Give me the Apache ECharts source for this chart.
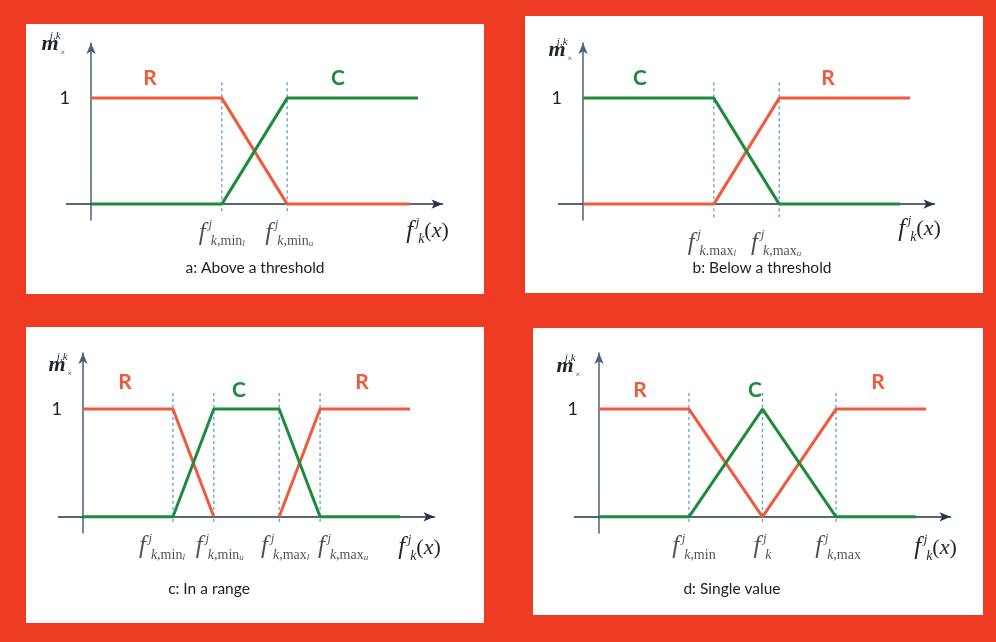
<!DOCTYPE html>
<html>
<head>
<meta charset="utf-8">
<script src="https://cdn.jsdelivr.net/npm/echarts@6/dist/echarts.min.js"></script>
<style>
  html, body { margin: 0; padding: 0; background: #ee3b24; }
  #chart { width: 996px; height: 642px; }
</style>
</head>
<body>
<div id="chart"></div>
<script>
// a: above a threshold
const aRed = [[0, 1], [4, 1], [6, 0], [9.75, 0]]
const aGreen = [[0, 0], [4, 0], [6, 1], [10, 1]]
const aCuts = [4, 6]
const aTicks = ['{f|f}{j|j}{k|k}{s|,min}{t|l}', '{f|f}{j|j}{k|k}{s|,min}{t|u}']

// b: below a threshold
const bGreen = [[0, 1], [4, 1], [6, 0], [9.7, 0]]
const bRed = [[0, 0], [4, 0], [6, 1], [10, 1]]
const bCuts = [4, 6]
const bTicks = ['{f|f}{j|j}{k|k}{s|.max}{t|l}', '{f|f}{j|j}{k|k}{s|,max}{t|u}']

// c: in a range
const cRedLow = [[0, 1], [2.75, 1], [4, 0]]
const cRedHigh = [[6, 0], [7.25, 1], [10, 1]]
const cGreen = [[0, 0], [2.75, 0], [4, 1], [6, 1], [7.25, 0], [9.7, 0]]
const cCuts = [2.75, 4, 6, 7.25]
const cTicks = [
  '{f|f}{j|j}{k|k}{s|,min}{t|l}', '{f|f}{j|j}{k|k}{s|,min}{t|u}',
  '{f|f}{j|j}{k|k}{s|,max}{t|l}', '{f|f}{j|j}{k|k}{s|,max}{t|u}'
]

// d: single value
const dRed = [[0, 1], [2.75, 1], [5, 0], [7.25, 1], [10, 1]]
const dGreen = [[0, 0], [2.75, 0], [5, 1], [7.25, 0], [9.7, 0]]
const dCuts = [2.75, 5, 7.25]
const dTicks = ['{f|f}{j|j}{k|k}{s|,min}', '{f|f}{j|j}{k|k}', '{f|f}{j|j}{k|k}{s|,max}']

const yTicks = [1]
const yTickText = '1'
const xName = '{f|f}{j|j}{k|k}{p|(}{x|x}{p|)}'
const yName = '{m|m}{mj|j,k}{sx|×}'

const RED = '#ef5a3c'
const GREEN = '#1e8a3b'
const INK = '#1e2530'
const SERIF = 'Liberation Serif'

const chart = echarts.init(document.getElementById('chart'))

const rich = {
  f: { fontFamily: SERIF, fontStyle: 'italic', fontSize: 25, lineHeight: 30, color: INK },
  j: { fontFamily: SERIF, fontStyle: 'italic', fontSize: 13, lineHeight: 15, verticalAlign: 'top', width: 1, padding: [0, 0, 0, 4], color: INK },
  k: { fontFamily: SERIF, fontStyle: 'italic', fontSize: 14, lineHeight: 16, verticalAlign: 'bottom', color: INK },
  s: { fontFamily: SERIF, fontSize: 14, lineHeight: 16, verticalAlign: 'bottom', color: INK },
  t: { fontFamily: SERIF, fontStyle: 'italic', fontSize: 9, lineHeight: 11, verticalAlign: 'bottom', color: INK },
  p: { fontFamily: SERIF, fontSize: 22, lineHeight: 30, color: INK },
  x: { fontFamily: SERIF, fontStyle: 'italic', fontSize: 22, lineHeight: 30, color: INK },
  m: { fontFamily: SERIF, fontStyle: 'italic', fontWeight: 'bold', fontSize: 22, lineHeight: 26, color: INK },
  mj: { fontFamily: SERIF, fontStyle: 'italic', fontSize: 11, lineHeight: 12, verticalAlign: 'top', width: 1, padding: [0, 0, 0, 1], color: INK },
  sx: { fontFamily: SERIF, fontSize: 8, lineHeight: 9, verticalAlign: 'bottom', color: INK }
}

const panels = [
  { grid: { left: 66.5, top: 43, width: 376, height: 177 }, lines: [[aRed, RED], [aGreen, GREEN]],
    cuts: aCuts, ticks: aTicks, shift: [0, 2], guide: [1.15, -0.1], tickGap: 14, nameGap: -1, namePad: 26, xNamePad: 12 },
  { grid: { left: 558.5, top: 43, width: 376, height: 177 }, lines: [[bRed, RED], [bGreen, GREEN]],
    cuts: bCuts, ticks: bTicks, shift: [-2, -3], guide: [1.15, -0.15], tickGap: 24, nameGap: -7, namePad: 11, xNamePad: 10 },
  { grid: { left: 58.5, top: 353, width: 376, height: 180 }, lines: [[cRedLow, RED], [cRedHigh, RED], [cGreen, GREEN]],
    cuts: cCuts, ticks: cTicks, shift: [-11, 6, 6, 23], guide: [1.15, -0.06], tickGap: 15, nameGap: -12, namePad: 11, xNamePad: 16 },
  { grid: { left: 574.5, top: 353, width: 376, height: 180 }, lines: [[dRed, RED], [dGreen, GREEN]],
    cuts: dCuts, ticks: dTicks, shift: [5, 0, 2], guide: [1.15, -0.06], tickGap: 15, nameGap: -13, namePad: 19, xNamePad: 16 }
]

const grid = []
const xAxis = []
const yAxis = []
const series = []

panels.forEach((p, i) => {
  grid.push(Object.assign({ containLabel: false, outerBoundsMode: 'none' }, p.grid))
  xAxis.push({
    type: 'value',
    gridIndex: i,
    min: -0.75,
    max: 10.75,
    splitLine: { show: false },
    axisTick: { show: false },
    axisLabel: { show: false },
    axisLine: {
      onZero: true,
      symbol: ['none', 'arrow'],
      symbolSize: [7, 11],
      lineStyle: { color: '#243447', width: 1.5 }
    },
    name: xName,
    nameLocation: 'end',
    nameGap: -15,
    nameMoveOverlap: false,
    nameTextStyle: { align: 'center', verticalAlign: 'top', padding: [p.xNamePad, 0, 0, 0], rich: rich }
  })
  yAxis.push({
    type: 'value',
    gridIndex: i,
    min: -0.15,
    max: 1.52,
    splitLine: { show: false },
    axisTick: { show: false },
    axisLine: {
      onZero: true,
      symbol: ['none', 'arrow'],
      symbolSize: [7, 11],
      lineStyle: { color: '#46627c', width: 1.5 }
    },
    axisLabel: {
      customValues: yTicks,
      formatter: () => yTickText,
      margin: -3.5,
      fontFamily: 'Lato',
      fontSize: 18,
      color: '#222'
    },
    name: yName,
    nameLocation: 'end',
    nameGap: p.nameGap,
    nameMoveOverlap: false,
    nameTextStyle: { align: 'right', verticalAlign: 'middle', padding: [0, p.namePad, 0, 0], rich: rich }
  })
  p.cuts.forEach((c) => {
    series.push({
      type: 'line',
      xAxisIndex: i,
      yAxisIndex: i,
      data: [[c, p.guide[0]], [c, p.guide[1]]],
      showSymbol: false,
      silent: true,
      lineStyle: { color: '#5b9bd5', width: 1.3, type: [3, 3] },
      z: 1
    })
  })
  p.lines.forEach(([data, color]) => {
    series.push({
      type: 'line',
      xAxisIndex: i,
      yAxisIndex: i,
      data: data,
      showSymbol: false,
      lineStyle: { color: color, width: 3 },
      z: color === GREEN ? 4 : 3
    })
  })
  // threshold labels under the x axis
  series.push({
    type: 'scatter',
    xAxisIndex: i,
    yAxisIndex: i,
    symbolSize: 0,
    silent: true,
    data: p.cuts.map((c, n) => ({
      value: [c, 0],
      label: { formatter: p.ticks[n], offset: [p.shift[n], 0] }
    })),
    label: { show: true, position: 'bottom', distance: p.tickGap, rich: rich },
    z: 5
  })
})

const panelBoxes = [
  [26, 24, 458, 270],
  [525, 16, 458, 277],
  [26, 327, 458, 296],
  [533, 328, 450, 287]
]
const notes = [
  ['R', 150, 78, RED], ['C', 338, 78, GREEN],
  ['C', 640, 78, GREEN], ['R', 828, 78, RED],
  ['R', 125, 382, RED], ['C', 239, 390, GREEN], ['R', 362, 382, RED],
  ['R', 640, 390, RED], ['C', 755, 390, GREEN], ['R', 878, 382, RED]
]
const captions = [
  ['a: Above a threshold', 255, 268],
  ['b: Below a threshold', 762, 268],
  ['c: In a range', 209, 589],
  ['d: Single value', 732, 589]
]

const graphic = []
panelBoxes.forEach(([x, y, w, h]) => {
  graphic.push({ type: 'rect', z: -10, shape: { x: x, y: y, width: w, height: h }, style: { fill: '#fff' }, silent: true })
})
notes.forEach(([t, x, y, c]) => {
  graphic.push({ type: 'text', x: x, y: y, style: { text: t, fill: c, fontFamily: 'Lato', fontSize: 21, fontWeight: 'bold', align: 'center', verticalAlign: 'middle' } })
})
captions.forEach(([t, x, y]) => {
  graphic.push({ type: 'text', x: x, y: y, style: { text: t, fill: '#222', fontFamily: 'Lato', fontSize: 15.5, align: 'center', verticalAlign: 'middle' } })
})

chart.setOption({
  backgroundColor: '#ee3b24',
  animation: false,
  grid: grid,
  xAxis: xAxis,
  yAxis: yAxis,
  series: series,
  graphic: graphic
})
</script>
</body>
</html>
